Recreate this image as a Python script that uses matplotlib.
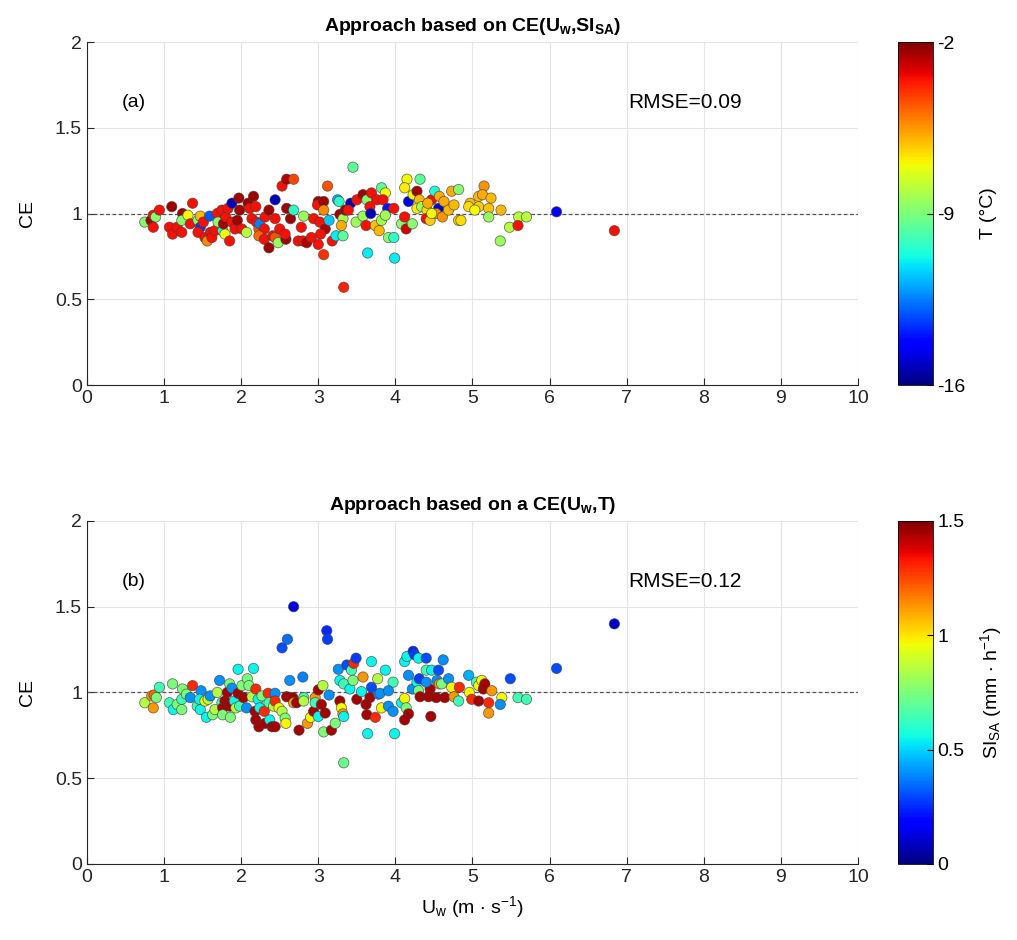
import numpy as np
import matplotlib
matplotlib.use('Agg')
import matplotlib.pyplot as plt

plt.rcParams['font.family'] = ['Liberation Sans', 'DejaVu Sans']
plt.rcParams['mathtext.default'] = 'regular'

# panel (a): wind speed, CE, air temperature (°C)
u_a = [0.75, 0.83, 0.86, 0.89, 0.94, 0.86, 1.10, 1.07, 1.11, 1.17, 1.23, 1.24, 1.23, 1.31, 1.37,
       1.34, 1.44, 1.47, 1.47, 1.44, 1.51, 1.53, 1.56, 1.59, 1.60, 1.62, 1.66, 1.69, 1.70, 1.75,
       1.76, 1.79, 1.77, 1.80, 1.83, 1.85, 1.88, 1.88, 1.92, 1.95, 1.97, 1.98, 2.01, 2.07, 2.09,
       2.11, 2.16, 2.19, 2.14, 2.20, 2.23, 2.24, 2.30, 2.31, 2.23, 2.30, 2.36, 2.36, 2.41, 2.44,
       2.44, 2.44, 2.48, 2.50, 2.53, 2.59, 2.68, 2.58, 2.57, 2.59, 2.64, 2.68, 2.74, 2.81, 2.78,
       2.80, 2.85, 2.91, 2.94, 3.00, 2.99, 3.07, 3.07, 3.02, 3.09, 3.03, 3.00, 3.07, 3.12, 3.14,
       3.18, 3.23, 3.32, 3.25, 3.27, 3.28, 3.32, 3.30, 3.35, 3.42, 3.39, 3.45, 3.50, 3.49, 3.58,
       3.63, 3.58, 3.62, 3.67, 3.68, 3.69, 3.76, 3.74, 3.79, 3.82, 3.87, 3.82, 3.84, 3.90, 3.87,
       3.91, 3.98, 3.64, 3.99, 3.33, 3.98, 4.08, 4.12, 4.14, 4.22, 4.15, 4.12, 4.32, 4.17, 4.23,
       4.28, 4.31, 4.28, 4.34, 4.41, 4.40, 4.45, 4.47, 4.42, 4.51, 4.57, 4.56, 4.53, 4.61, 4.63,
       4.69, 4.73, 4.76, 4.82, 4.82, 4.47, 4.85, 5.15, 5.08, 5.13, 5.24, 4.97, 5.08, 4.95, 5.21,
       5.03, 5.37, 5.21, 5.60, 5.70, 5.48, 5.59, 5.36, 6.09, 6.84]
ce_a = [0.95, 0.96, 0.99, 0.98, 1.02, 0.92, 1.04, 0.92, 0.88, 0.92, 0.89, 1.00, 0.96, 0.99, 1.06,
        0.94, 0.96, 0.985, 0.92, 0.89, 0.95, 0.86, 0.84, 0.985, 0.89, 0.86, 0.90, 1.00, 0.95, 1.02,
        0.90, 0.88, 0.94, 0.98, 1.03, 0.84, 1.06, 0.95, 0.91, 0.96, 1.09, 1.02, 0.91, 0.89, 1.06,
        1.03, 1.10, 1.04, 0.97, 0.95, 0.91, 0.94, 0.91, 0.98, 0.87, 0.85, 1.02, 0.80, 0.87, 0.97,
        1.08, 0.86, 0.83, 0.91, 1.16, 1.20, 1.20, 0.85, 0.88, 1.03, 0.97, 1.02, 0.84, 0.985, 0.92,
        0.84, 0.83, 0.86, 0.97, 1.07, 1.05, 1.07, 1.02, 0.95, 0.91, 0.88, 0.82, 0.76, 1.16, 0.96,
        0.84, 0.87, 0.87, 1.08, 1.07, 0.995, 0.97, 0.93, 1.02, 1.06, 1.02, 1.27, 1.08, 0.95, 1.11,
        1.08, 0.985, 0.93, 1.04, 1.00, 1.12, 1.08, 0.93, 0.90, 1.15, 1.12, 0.96, 1.08, 1.03, 0.99,
        0.86, 0.86, 0.77, 0.74, 0.57, 1.03, 0.94, 0.98, 0.91, 0.94, 1.20, 1.15, 1.20, 1.07, 1.11,
        1.13, 1.08, 1.03, 1.04, 1.02, 0.97, 0.96, 1.08, 1.06, 1.13, 1.10, 1.03, 1.00, 0.98, 1.07,
        1.02, 1.13, 1.05, 1.14, 0.96, 1.00, 0.96, 1.16, 1.10, 1.11, 1.09, 1.06, 1.04, 1.04, 1.03,
        1.02, 1.02, 0.98, 0.98, 0.98, 0.92, 0.93, 0.84, 1.01, 0.90]
t_a = [-8.8, -2.4, -3.5, -8.8, -3.5, -3.5, -2.4, -3.5, -3.5, -3.5, -3.5, -2.4, -8.8, -7.0, -3.5,
       -3.5, -8.8, -6.0, -13.5, -3.5, -3.5, -3.5, -5.3, -13.0, -3.5, -3.5, -3.5, -3.5, -8.8, -3.5,
       -10.5, -7.0, -2.4, -3.5, -3.5, -3.5, -15.3, -3.5, -3.5, -2.4, -2.4, -2.4, -3.5, -8.0, -2.4,
       -3.5, -2.4, -3.5, -3.5, -3.5, -4.5, -12.5, -3.5, -3.5, -4.8, -3.5, -2.4, -2.4, -3.5, -3.5,
       -15.3, -4.5, -8.5, -3.5, -3.5, -2.6, -4.3, -2.4, -3.5, -2.4, -2.4, -10.3, -3.5, -8.5, -3.5,
       -3.5, -2.6, -3.5, -3.5, -2.4, -3.5, -2.4, -5.3, -3.5, -2.6, -3.5, -3.5, -4.0, -4.5, -11.5,
       -3.5, -11.0, -9.5, -11.8, -10.3, -2.4, -8.3, -5.8, -2.4, -15.3, -3.5, -9.5, -3.5, -8.5, -2.4,
       -8.8, -8.5, -3.5, -3.5, -15.3, -3.5, -3.5, -6.2, -6.0, -9.5, -7.0, -8.3, -3.5, -14.0, -8.3,
       -8.8, -10.3, -11.0, -11.0, -3.8, -3.5, -8.8, -3.5, -3.0, -8.8, -7.0, -6.8, -9.5, -14.8, -7.0,
       -2.4, -6.0, -6.8, -8.5, -6.5, -3.5, -6.3, -3.5, -5.8, -10.5, -5.8, -15.0, -5.5, -5.5, -5.8,
       -6.0, -5.8, -6.0, -8.8, -6.3, -7.0, -6.5, -5.5, -6.0, -5.8, -6.0, -6.0, -6.3, -6.5, -6.2,
       -7.0, -6.0, -8.5, -8.0, -8.0, -8.0, -3.5, -8.5, -14.5, -3.5]

# panel (b): wind speed, CE, SI_SA (mm/h)
u_b = [0.75, 0.84, 0.87, 0.86, 0.90, 0.94, 1.07, 1.11, 1.12, 1.17, 1.23, 1.24, 1.23, 1.29, 1.34,
       1.37, 1.43, 1.47, 1.48, 1.46, 1.53, 1.55, 1.57, 1.60, 1.63, 1.66, 1.69, 1.72, 1.75, 1.76,
       1.76, 1.79, 1.82, 1.85, 1.86, 1.85, 1.88, 1.91, 1.93, 1.96, 1.96, 1.98, 2.01, 2.03, 2.07,
       2.08, 2.10, 2.14, 2.16, 2.19, 2.18, 2.19, 2.22, 2.23, 2.24, 2.27, 2.30, 2.31, 2.35, 2.36,
       2.37, 2.40, 2.42, 2.44, 2.44, 2.44, 2.49, 2.53, 2.53, 2.60, 2.57, 2.58, 2.59, 2.63, 2.67,
       2.68, 2.68, 2.72, 2.75, 2.80, 2.81, 2.81, 2.86, 2.90, 2.94, 2.96, 2.96, 3.00, 3.00, 3.04,
       3.06, 3.07, 3.09, 3.11, 3.12, 3.14, 3.17, 3.22, 3.26, 3.28, 3.28, 3.30, 3.32, 3.33, 3.33,
       3.33, 3.37, 3.41, 3.43, 3.45, 3.46, 3.49, 3.50, 3.58, 3.56, 3.62, 3.63, 3.64, 3.67, 3.69,
       3.69, 3.74, 3.77, 3.78, 3.80, 3.82, 3.87, 3.91, 3.97, 3.99, 3.97, 3.91, 4.08, 4.12, 4.14,
       4.17, 4.12, 4.12, 4.15, 4.23, 4.25, 4.30, 4.17, 4.22, 4.28, 4.30, 4.31, 4.32, 4.40, 4.40,
       4.43, 4.45, 4.46, 4.40, 4.47, 4.53, 4.54, 4.56, 4.57, 4.62, 4.60, 4.64, 4.69, 4.73, 4.76,
       4.82, 4.83, 4.95, 4.96, 4.99, 5.05, 5.08, 5.12, 5.14, 5.16, 5.08, 5.21, 5.25, 5.21, 5.38,
       5.36, 5.49, 5.59, 5.70, 6.09, 6.84]
ce_b = [0.94, 0.98, 0.985, 0.91, 0.97, 1.03, 0.94, 1.05, 0.90, 0.93, 0.90, 1.02, 0.96, 0.99, 0.97,
        1.04, 0.92, 0.90, 1.01, 0.96, 0.95, 0.855, 0.96, 0.98, 0.87, 0.90, 1.00, 1.07, 0.94, 0.91,
        0.87, 0.95, 1.00, 1.05, 0.855, 0.92, 1.025, 0.95, 0.91, 0.995, 1.135, 0.92, 1.04, 0.97, 0.91,
        1.08, 1.04, 0.975, 1.14, 1.02, 0.89, 0.84, 0.96, 0.80, 0.91, 0.98, 0.89, 0.82, 0.995, 0.94,
        0.84, 0.80, 0.92, 0.995, 0.95, 0.80, 0.91, 0.89, 1.26, 1.31, 0.85, 0.82, 0.975, 1.07, 0.97,
        1.50, 0.94, 0.94, 0.78, 1.09, 0.97, 0.95, 0.82, 0.855, 0.89, 0.97, 0.94, 1.015, 0.86, 0.93,
        1.04, 0.77, 0.88, 1.36, 1.31, 0.985, 0.78, 0.82, 1.135, 1.07, 0.95, 0.91, 0.875, 0.86, 0.59,
        1.05, 1.16, 1.02, 1.13, 1.07, 1.17, 1.20, 0.96, 1.09, 1.005, 0.93, 0.87, 0.76, 0.97, 1.03,
        1.18, 0.855, 1.08, 0.99, 0.995, 0.91, 1.13, 0.92, 0.89, 0.76, 1.06, 1.01, 0.94, 0.965, 0.91,
        0.875, 0.84, 1.18, 1.21, 1.24, 1.22, 1.20, 1.10, 1.02, 1.06, 1.01, 1.08, 0.975, 1.20, 1.13,
        0.975, 1.02, 0.86, 1.06, 1.13, 0.97, 1.07, 1.13, 1.05, 1.19, 1.05, 0.97, 1.08, 1.03, 0.975,
        0.95, 1.03, 1.10, 1.00, 0.96, 1.06, 1.04, 1.07, 1.02, 1.05, 0.95, 0.94, 1.01, 0.88, 0.97,
        0.93, 1.08, 0.97, 0.96, 1.14, 1.40]
si_b = [0.85, 1.12, 1.2, 1.12, 0.75, 0.65, 0.65, 0.75, 0.55, 0.75, 0.75, 0.75, 0.65, 0.75, 0.4,
        1.3, 0.65, 0.55, 0.4, 0.55, 0.97, 0.55, 0.85, 0.4, 0.75, 0.85, 0.85, 0.4, 0.65, 1.45,
        0.75, 1.45, 1.45, 0.75, 0.75, 1.45, 0.4, 0.55, 0.85, 1.45, 0.55, 0.65, 0.75, 1.45, 0.4,
        0.75, 0.75, 0.85, 0.55, 1.3, 1.45, 1.45, 0.55, 1.45, 0.55, 0.75, 1.3, 1.45, 1.3, 0.65,
        0.55, 1.45, 0.85, 0.4, 1.3, 1.45, 0.97, 0.85, 0.3, 0.35, 0.75, 0.97, 1.45, 0.4, 1.45,
        0.12, 1.12, 1.45, 1.45, 0.38, 0.65, 0.85, 1.12, 0.97, 1.45, 1.12, 0.65, 1.45, 0.55, 1.45,
        0.85, 0.75, 1.45, 0.25, 0.28, 0.4, 1.45, 0.75, 0.4, 0.55, 1.45, 0.97, 1.12, 0.55, 0.72,
        0.65, 0.3, 0.55, 0.65, 0.75, 1.3, 0.28, 1.45, 1.12, 0.55, 1.45, 1.45, 0.55, 1.45, 0.3,
        0.55, 1.3, 0.85, 0.4, 0.4, 0.97, 0.55, 0.4, 0.4, 0.55, 0.65, 0.4, 0.55, 0.97, 0.75,
        1.45, 1.45, 0.55, 0.55, 0.25, 0.28, 0.55, 0.4, 0.4, 0.55, 0.75, 0.28, 1.45, 0.3, 0.65,
        1.45, 1.45, 1.45, 0.4, 0.55, 1.45, 0.4, 0.3, 1.12, 0.4, 0.75, 1.45, 0.4, 0.97, 1.12,
        0.65, 1.3, 0.45, 0.97, 1.3, 0.65, 0.97, 0.97, 1.45, 1.45, 1.45, 1.3, 1.12, 1.12, 0.97,
        0.4, 0.3, 0.65, 0.65, 0.3, 0.1]

titles = ['Approach based on CE(U$_w$,SI$_{SA}$)', 'Approach based on a CE(U$_w$,T)']
panel_tags = ['(a)', '(b)']
rmse_text = ['RMSE=0.09', 'RMSE=0.12']
cbar_labels = ['T (°C)', 'SI$_{SA}$ (mm $\\cdot$ h$^{-1}$)']

fig = plt.figure(figsize=(10.17, 9.4), dpi=100)
ax_pos = [[0.0855, 0.5904, 0.7582, 0.3649], [0.0855, 0.0809, 0.7582, 0.3649]]
cb_pos = [[0.883, 0.5904, 0.034, 0.3649], [0.883, 0.0809, 0.034, 0.3649]]
panels = [(u_a, ce_a, t_a, -16, -2, [-16, -9, -2]),
          (u_b, ce_b, si_b, 0, 1.5, [0, 0.5, 1, 1.5])]

for i, (u, ce, c, vmin, vmax, cticks) in enumerate(panels):
    ax = fig.add_axes(ax_pos[i])
    ax.set_axisbelow(True)
    ax.grid(True, color='#e4e4e4', linewidth=0.8)
    ax.axhline(1, color='#555555', linestyle=(0, (3, 2)), linewidth=0.9, zorder=1)
    sc = ax.scatter(u, ce, c=c, cmap='jet', vmin=vmin, vmax=vmax, s=55,
                    edgecolors=(0.25, 0.25, 0.25, 0.7), linewidths=0.6, zorder=3)
    ax.set_xlim(0, 10)
    ax.set_ylim(0, 2)
    ax.set_xticks(range(11))
    ax.set_yticks([0, 0.5, 1, 1.5, 2])
    ax.set_yticklabels(['0', '0.5', '1', '1.5', '2'])
    ax.tick_params(direction='in', labelsize=14, length=5, colors='#262626')
    for s in ['top', 'right']:
        ax.spines[s].set_visible(False)
    for s in ['left', 'bottom']:
        ax.spines[s].set_color('#262626')
    ax.set_ylabel('CE', fontsize=14, labelpad=14)
    ax.set_title(titles[i], fontsize=14, fontweight='bold', pad=8)
    ax.text(0.45, 1.645, panel_tags[i], fontsize=14, va='center')
    ax.text(7.02, 1.645, rmse_text[i], fontsize=15, va='center')
    if i == 1:
        ax.set_xlabel('U$_w$ (m $\\cdot$ s$^{-1}$)', fontsize=14, labelpad=6)

    cax = fig.add_axes(cb_pos[i])
    cb = fig.colorbar(sc, cax=cax, ticks=cticks)
    cb.ax.set_yticklabels([('%g' % v) for v in cticks])
    cb.ax.tick_params(labelsize=14, direction='in', length=4)
    cb.outline.set_linewidth(0.6)
    cb.set_label(cbar_labels[i], fontsize=14, labelpad=10)

fig.savefig('out.png', dpi=100)
